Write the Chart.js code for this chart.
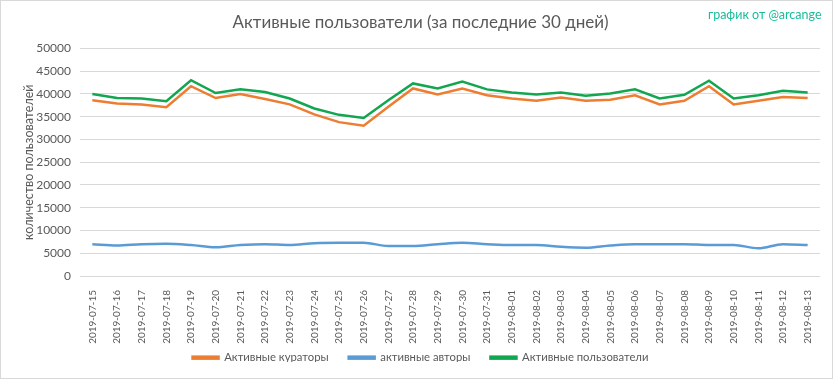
<!DOCTYPE html>
<html>
<head>
<meta charset="utf-8">
<script src="https://cdn.jsdelivr.net/npm/chart.js@4/dist/chart.umd.min.js"></script>
<style>
  html, body { margin: 0; padding: 0; background: #fff; }
  #wrap { position: relative; width: 833px; height: 379px; box-sizing: border-box; border: 1px solid #d9d9d9; }
  canvas { position: absolute; left: 0; top: 0; }
  #mark { position: absolute; left: 707px; top: 6px; font-family: Lato, "Open Sans", sans-serif; font-size: 12.5px; color: #1abc9c; }
</style>
</head>
<body>
<div id="wrap">
  <canvas id="c" width="833" height="379"></canvas>
  <div id="mark">график от @arcange</div>
</div>
<script>
const dates = ["2019-07-15","2019-07-16","2019-07-17","2019-07-18","2019-07-19","2019-07-20","2019-07-21","2019-07-22","2019-07-23","2019-07-24","2019-07-25","2019-07-26","2019-07-27","2019-07-28","2019-07-29","2019-07-30","2019-07-31","2019-08-01","2019-08-02","2019-08-03","2019-08-04","2019-08-05","2019-08-06","2019-08-07","2019-08-08","2019-08-09","2019-08-10","2019-08-11","2019-08-12","2019-08-13"];
const curators = [38600,37900,37700,37100,41700,39100,40000,38900,37700,35500,33800,33000,37200,41200,39900,41200,39700,39000,38500,39200,38500,38700,39700,37700,38500,41700,37700,38500,39300,39100];
const authors = [7000,6700,7000,7100,6800,6300,6800,7000,6800,7200,7300,7300,6600,6600,7000,7300,7000,6800,6800,6400,6200,6700,7000,7000,7000,6800,6800,6100,7000,6800];
const users = [40000,39100,39000,38400,43000,40200,41000,40400,39000,36800,35400,34700,38600,42300,41200,42700,41000,40300,39900,40300,39600,40100,41000,39000,39800,42900,39000,39700,40700,40300];
const seriesNames = ["Активные кураторы","активные авторы","Активные пользователи"];
const titleText = "Активные пользователи (за последние 30 дней)";
const yTitle = "количество пользователей";
const yTicks = {min: 0, max: 50000, step: 5000};

const FONT = 'Lato, "Open Sans", sans-serif';
const GREY = '#595959';

// layout helper: fixes legend band height and places legend row
const legendPlace = {
  id: 'legendPlace',
  beforeInit(chart) {
    const lg = chart.legend;
    if (lg) {
      const orig = lg.fit;
      lg.fit = function () { orig.call(this); this.height = 30; };
    }
  },
  afterLayout(chart) {
    const lg = chart.legend;
    if (lg) {
      const shift = 331 - lg.top;
      lg.top += shift; lg.bottom += shift;
    }
  }
};

new Chart(document.getElementById('c'), {
  type: 'line',
  data: {
    labels: dates,
    datasets: [
      { label: seriesNames[0], data: curators, borderColor: '#ED7D31', backgroundColor: '#ED7D31', borderWidth: 2.5, pointRadius: 0, tension: 0, order: 2 },
      { label: seriesNames[1], data: authors, borderColor: '#5B9BD5', backgroundColor: '#5B9BD5', borderWidth: 2.5, pointRadius: 0, cubicInterpolationMode: 'monotone', order: 3 },
      { label: seriesNames[2], data: users, borderColor: '#12A650', backgroundColor: '#12A650', borderWidth: 2.5, pointRadius: 0, tension: 0, order: 1 }
    ]
  },
  plugins: [legendPlace],
  options: {
    responsive: false,
    animation: false,
    layout: { padding: { left: 20, right: 14, top: 8, bottom: 0 } },
    plugins: {
      title: { display: true, text: titleText, color: GREY, font: { family: FONT, size: 17, weight: 'normal' }, padding: { top: 3, bottom: 16 } },
      legend: {
        position: 'bottom',
        labels: {
          color: GREY, font: { family: FONT, size: 11.3 }, boxWidth: 26, boxHeight: 2, padding: 20,
          sort: (a, b) => a.datasetIndex - b.datasetIndex
        }
      },
      tooltip: { enabled: false }
    },
    scales: {
      x: {
        offset: true,
        grid: { display: false },
        border: { display: false },
        ticks: { color: GREY, font: { family: FONT, size: 10 }, minRotation: 90, maxRotation: 90, autoSkip: false, padding: 6 },
        afterFit: s => { s.height = 74; }
      },
      y: {
        min: yTicks.min, max: yTicks.max,
        grid: { color: '#d9d9d9', drawTicks: false },
        border: { display: false },
        ticks: { stepSize: yTicks.step, color: GREY, font: { family: FONT, size: 12 }, padding: 9, callback: v => String(v) },
        title: { display: true, text: yTitle, color: GREY, font: { family: FONT, size: 12.5 }, padding: { top: 0, bottom: 4 } },
        afterFit: s => { s.width = 59; }
      }
    }
  }
});
</script>
</body>
</html>
